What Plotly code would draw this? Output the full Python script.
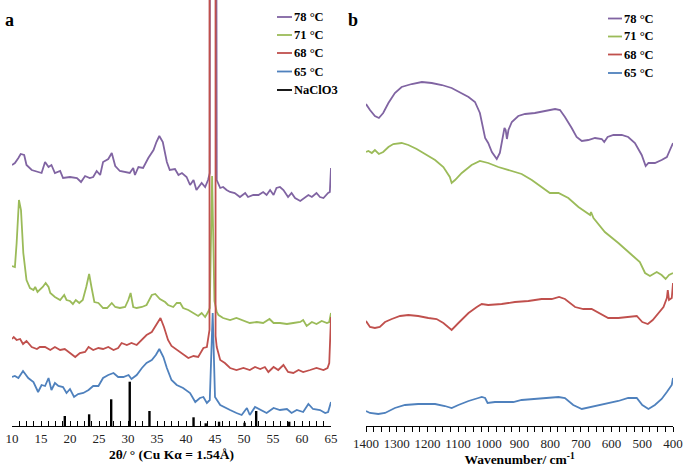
import plotly.graph_objects as go

# ---------------- Panel a: XRD (2θ, a.u.) ----------------
xrd_78_2theta = [10.0,10.5,11.1,11.5,12.1,12.5,13.4,14.3,15.1,15.7,16.3,16.8,17.4,18.3,18.8,20.0,21.2,21.9,22.6,23.4,24.0,24.6,25.2,25.7,26.6,27.2,27.8,28.6,29.5,30.3,30.9,31.2,31.8,32.6,33.5,34.4,34.9,35.4,36.0,36.7,37.2,38.1,38.7,39.3,40.1,40.7,41.3,41.8,42.7,43.3,43.8,44.1,44.3,44.8,45.3,45.9,46.4,47.0,47.6,48.4,49.3,50.2,50.7,51.6,52.5,53.3,53.9,54.5,55.1,55.6,56.2,56.8,57.6,58.2,58.8,59.7,60.5,61.1,61.7,62.5,63.1,63.7,64.5,64.8,65.0]
xrd_78_int = [261,263,268,272,271,261,256,254,253,264,259,261,253,255,248,249,248,244,250,248,249,255,251,264,267,273,260,255,254,253,258,251,259,258,268,276,284,290,284,264,256,257,251,253,249,241,246,236,243,239,246,253,4000,4000,246,238,239,236,234,233,229,233,229,231,231,234,231,236,231,238,239,236,229,233,228,225,228,231,229,233,229,228,233,234,258]

xrd_71_2theta = [10.0,10.5,10.8,11.2,11.55,11.95,12.5,13.1,13.7,14.0,14.4,14.8,15.3,15.8,16.3,16.6,17.4,18.3,19.0,19.4,20.0,20.5,21.0,21.6,22.2,22.8,23.3,23.7,24.2,24.9,25.7,26.4,27.2,27.8,28.6,29.5,30.05,30.45,30.9,31.5,32.4,33.2,34.1,34.7,35.5,36.4,36.9,37.8,38.4,39.0,39.5,40.4,41.3,42.1,42.7,43.3,43.8,44.1,44.5,44.9,45.3,45.6,46.4,47.6,48.7,49.9,51.0,52.2,53.3,54.4,55.1,56.2,57.4,58.5,59.7,60.2,60.8,61.7,62.5,63.4,64.3,64.7,65.0]
xrd_71_int = [160,159,183,226,216,173,146,138,136,139,134,136,139,143,139,133,129,126,131,126,125,122,126,123,126,139,152,139,124,123,118,118,123,119,118,119,126,133,119,118,119,121,131,132,127,124,121,119,123,123,118,116,113,110,113,109,114,118,250,125,114,111,108,106,108,105,103,104,103,107,103,103,102,103,104,106,100,104,102,105,103,104,113]

xrd_68_2theta = [10.0,10.3,10.8,11.4,11.9,12.5,13.4,14.3,14.8,15.7,16.6,17.4,18.3,19.1,20.0,20.9,21.7,22.6,23.2,24.0,24.9,25.7,26.6,27.5,28.3,28.9,29.8,30.6,31.5,32.4,33.2,34.1,34.9,35.6,36.2,36.9,37.5,38.4,39.5,40.4,41.3,42.1,43.0,43.6,44.05,44.2,44.95,45.1,45.3,45.9,46.7,47.6,48.7,49.9,51.0,51.9,52.8,53.6,54.2,55.1,55.9,56.8,57.6,58.5,59.4,60.2,61.4,62.5,63.7,64.4,64.7,65.0]
xrd_68_int = [87,89,86,87,82,85,79,77,79,79,76,79,76,77,73,69,73,74,79,76,78,77,79,76,78,83,81,83,81,86,91,94,101,108,99,86,80,76,72,68,70,69,78,79,96,5000,5000,90,79,66,63,58,56,58,56,59,57,59,54,59,56,61,54,53,56,54,56,58,56,58,63,109]

xrd_65_2theta = [10.0,10.5,11.1,11.9,12.8,13.7,14.5,15.1,15.7,16.3,16.8,17.4,18.0,18.8,19.4,20.0,20.7,21.4,22.3,23.2,24.0,24.9,25.7,26.6,27.5,28.3,29.2,30.1,30.6,31.5,32.4,33.2,34.1,34.8,35.4,36.1,36.7,37.5,38.4,39.5,40.7,41.6,42.4,43.0,43.6,44.1,44.6,45.0,45.9,46.7,47.6,48.7,49.6,50.5,51.0,51.9,52.8,53.9,55.1,56.2,57.4,58.2,59.1,60.2,61.1,61.9,63.1,64.0,64.5,65.0]
xrd_65_int = [49,50,48,55,48,44,34,41,40,48,36,43,40,39,33,37,29,32,33,36,40,40,48,51,53,49,49,51,47,51,58,63,66,71,77,69,58,46,41,38,33,24,28,29,23,26,113,29,21,19,16,13,11,18,11,19,16,13,18,16,17,13,16,14,22,17,16,13,14,24]

naclo3_2theta = [19.1,23.3,27.1,30.3,33.7,41.3,43.4,45.7,50.1,52.1,57.8]
naclo3_int = [10,11.7,26.7,44.3,15,8.7,2.7,4.3,3.3,15,4.3]

# ---------------- Panel b: FTIR (cm-1, a.u.) ----------------
ftir_78_wn = [1400,1387,1371,1358,1344,1327,1306,1284,1251,1218,1186,1153,1121,1088,1066,1045,1029,1012,1002,990,974,964,956,949,945,941,936,925,904,882,850,817,784,768,752,730,714,697,676,654,632,624,613,594,567,546,524,502,489,480,459,437,420,410,404,400]
ftir_78_int = [321,315,309,307,312,322,332,338,341,343,342,340,337,332,328,323,312,287,282,273,266,272,285,297,295,286,295,303,309,311,312,314,316,315,308,297,288,284,285,287,286,283,288,290,290,288,282,270,259,262,262,265,268,275,279,282]

ftir_71_wn = [1400,1392,1381,1371,1358,1344,1327,1311,1284,1262,1235,1208,1175,1148,1127,1121,1110,1088,1056,1029,1002,969,925,893,860,828,801,773,741,708,670,667,659,622,578,534,508,491,475,453,437,424,413,400]
ftir_71_int = [273,274,272,275,271,273,278,281,282,280,276,271,265,258,248,242,245,252,260,264,262,258,254,251,245,238,232,232,227,218,210,213,207,193,182,170,163,152,149,153,150,146,150,152]

ftir_68_wn = [1400,1398,1387,1371,1355,1338,1316,1289,1262,1230,1197,1170,1148,1121,1099,1066,1039,1023,1002,958,915,871,828,795,771,752,719,692,665,643,611,578,546,518,500,482,466,447,431,420,417,413,404,400]
ftir_68_int = [102,103,98,97,98,103,106,109,110,109,107,106,102,95,102,112,118,121,120,121,123,124,126,126,128,126,118,116,116,112,107,107,108,109,103,101,105,112,118,127,135,125,127,142]

ftir_65_wn = [1400,1387,1360,1338,1306,1273,1230,1175,1143,1121,1099,1066,1034,1023,1012,1004,980,948,920,893,850,806,773,752,725,697,665,622,578,546,518,500,480,459,437,420,404,400]
ftir_65_int = [14,12,11,12,17,20,21,21,19,17,20,24,27,28,27,22,23,23,23,25,26,27,28,27,20,16,18,21,24,27,27,20,16,20,26,33,40,47]

series_labels = ["78 °C", "71 °C", "68 °C", "65 °C"]
series_colors = ["#8064A2", "#9BBB59", "#C0504D", "#4F81BD"]
stick_label = "NaClO3"
stick_color = "black"

SERIF = "Liberation Serif, Times New Roman, serif"
LW = 1.8

fig = go.Figure()

xrd_x = [xrd_78_2theta, xrd_71_2theta, xrd_68_2theta, xrd_65_2theta]
xrd_y = [xrd_78_int, xrd_71_int, xrd_68_int, xrd_65_int]
for i in [0, 1, 3, 2]:
    fig.add_trace(go.Scatter(x=xrd_x[i], y=xrd_y[i], mode="lines", name=series_labels[i],
                             line=dict(color=series_colors[i], width=LW),
                             showlegend=False, xaxis="x", yaxis="y"))

# NaClO3 reference sticks
stick_x, stick_y = [], []
for px, py in zip(naclo3_2theta, naclo3_int):
    stick_x += [px, px, None]
    stick_y += [0, py, None]
fig.add_trace(go.Scatter(x=stick_x, y=stick_y, mode="lines", name=stick_label,
                         line=dict(color=stick_color, width=2.4),
                         showlegend=False, xaxis="x", yaxis="y"))

ftir_x = [ftir_78_wn, ftir_71_wn, ftir_68_wn, ftir_65_wn]
ftir_y = [ftir_78_int, ftir_71_int, ftir_68_int, ftir_65_int]
for i in range(4):
    fig.add_trace(go.Scatter(x=ftir_x[i], y=ftir_y[i], mode="lines", name=series_labels[i],
                             line=dict(color=series_colors[i], width=LW),
                             showlegend=False, xaxis="x2", yaxis="y2"))

W, H = 685, 471
BOT = 45
PH = H - BOT

def px_x(p):
    return p / W

def px_y(p):
    return (PH - p) / PH

axis_common = dict(showline=True, linecolor="black", linewidth=1, showgrid=False, zeroline=False,
                   tickfont=dict(family=SERIF, size=13, color="#222"),
                   tickcolor="black", ticklen=5, tickwidth=1, mirror=False)

# legends (drawn as line samples + bold labels)
shapes, annotations = [], []
leg_a_labels = series_labels + [stick_label]
leg_a_colors = series_colors + [stick_color]
leg_a_rows = [17, 35, 53, 71.5, 90]
for lab, col, ry in zip(leg_a_labels, leg_a_colors, leg_a_rows):
    shapes.append(dict(type="line", xref="paper", yref="paper", x0=px_x(277), x1=px_x(292),
                       y0=px_y(ry), y1=px_y(ry), line=dict(color=col, width=1.8)))
    annotations.append(dict(text=f"<b>{lab}</b>", x=px_x(292), y=px_y(ry), xref="paper", yref="paper",
                            xanchor="left", yanchor="middle", showarrow=False,
                            font=dict(family=SERIF, size=12.5, color="black")))
leg_b_rows = [18.5, 36.5, 54.5, 73]
for lab, col, ry in zip(series_labels, series_colors, leg_b_rows):
    shapes.append(dict(type="line", xref="paper", yref="paper", x0=px_x(608), x1=px_x(622),
                       y0=px_y(ry), y1=px_y(ry), line=dict(color=col, width=1.8)))
    annotations.append(dict(text=f"<b>{lab}</b>", x=px_x(622), y=px_y(ry), xref="paper", yref="paper",
                            xanchor="left", yanchor="middle", showarrow=False,
                            font=dict(family=SERIF, size=12.5, color="black")))

annotations += [
    dict(text="<b>a</b>", x=px_x(3), y=px_y(20), xref="paper", yref="paper", xanchor="left",
         yanchor="middle", showarrow=False, font=dict(family=SERIF, size=18, color="black")),
    dict(text="<b>b</b>", x=px_x(346), y=px_y(20), xref="paper", yref="paper", xanchor="left",
         yanchor="middle", showarrow=False, font=dict(family=SERIF, size=18, color="black")),
]

fig.update_layout(
    width=W, height=H,
    margin=dict(l=0, r=0, t=0, b=BOT, autoexpand=False),
    plot_bgcolor="white", paper_bgcolor="white",
    font=dict(family=SERIF, color="black"),
    showlegend=False,
    xaxis=dict(domain=[px_x(12), px_x(331)], range=[10, 65], tickmode="linear", tick0=10, dtick=5,
               ticks="inside",
               minor=dict(ticks="inside", tick0=10, dtick=1.25, ticklen=5, tickcolor="black"),
               title=dict(text="<b>2θ/ ° (Cu Kα = 1.54Å)</b>", font=dict(family=SERIF, size=13.5), standoff=4),
               anchor="y", **axis_common),
    yaxis=dict(domain=[0, 1], range=[0, PH], visible=False, anchor="x"),
    xaxis2=dict(domain=[px_x(366), px_x(673)], range=[1400, 400], tickmode="linear", tick0=400, dtick=100,
                ticks="outside",
                minor=dict(ticks="outside", tick0=400, dtick=25, ticklen=5, tickcolor="black"),
                title=dict(text="<b>Wavenumber/ cm<sup>-1</sup></b>", font=dict(family=SERIF, size=13.5), standoff=4),
                anchor="y2", **axis_common),
    yaxis2=dict(domain=[0, 1], range=[-1, PH - 1], visible=False, anchor="x2"),
    shapes=shapes,
    annotations=annotations,
)

fig.write_html("out.html", config={"displayModeBar": False},
               post_script="document.body.style.margin='0';")
